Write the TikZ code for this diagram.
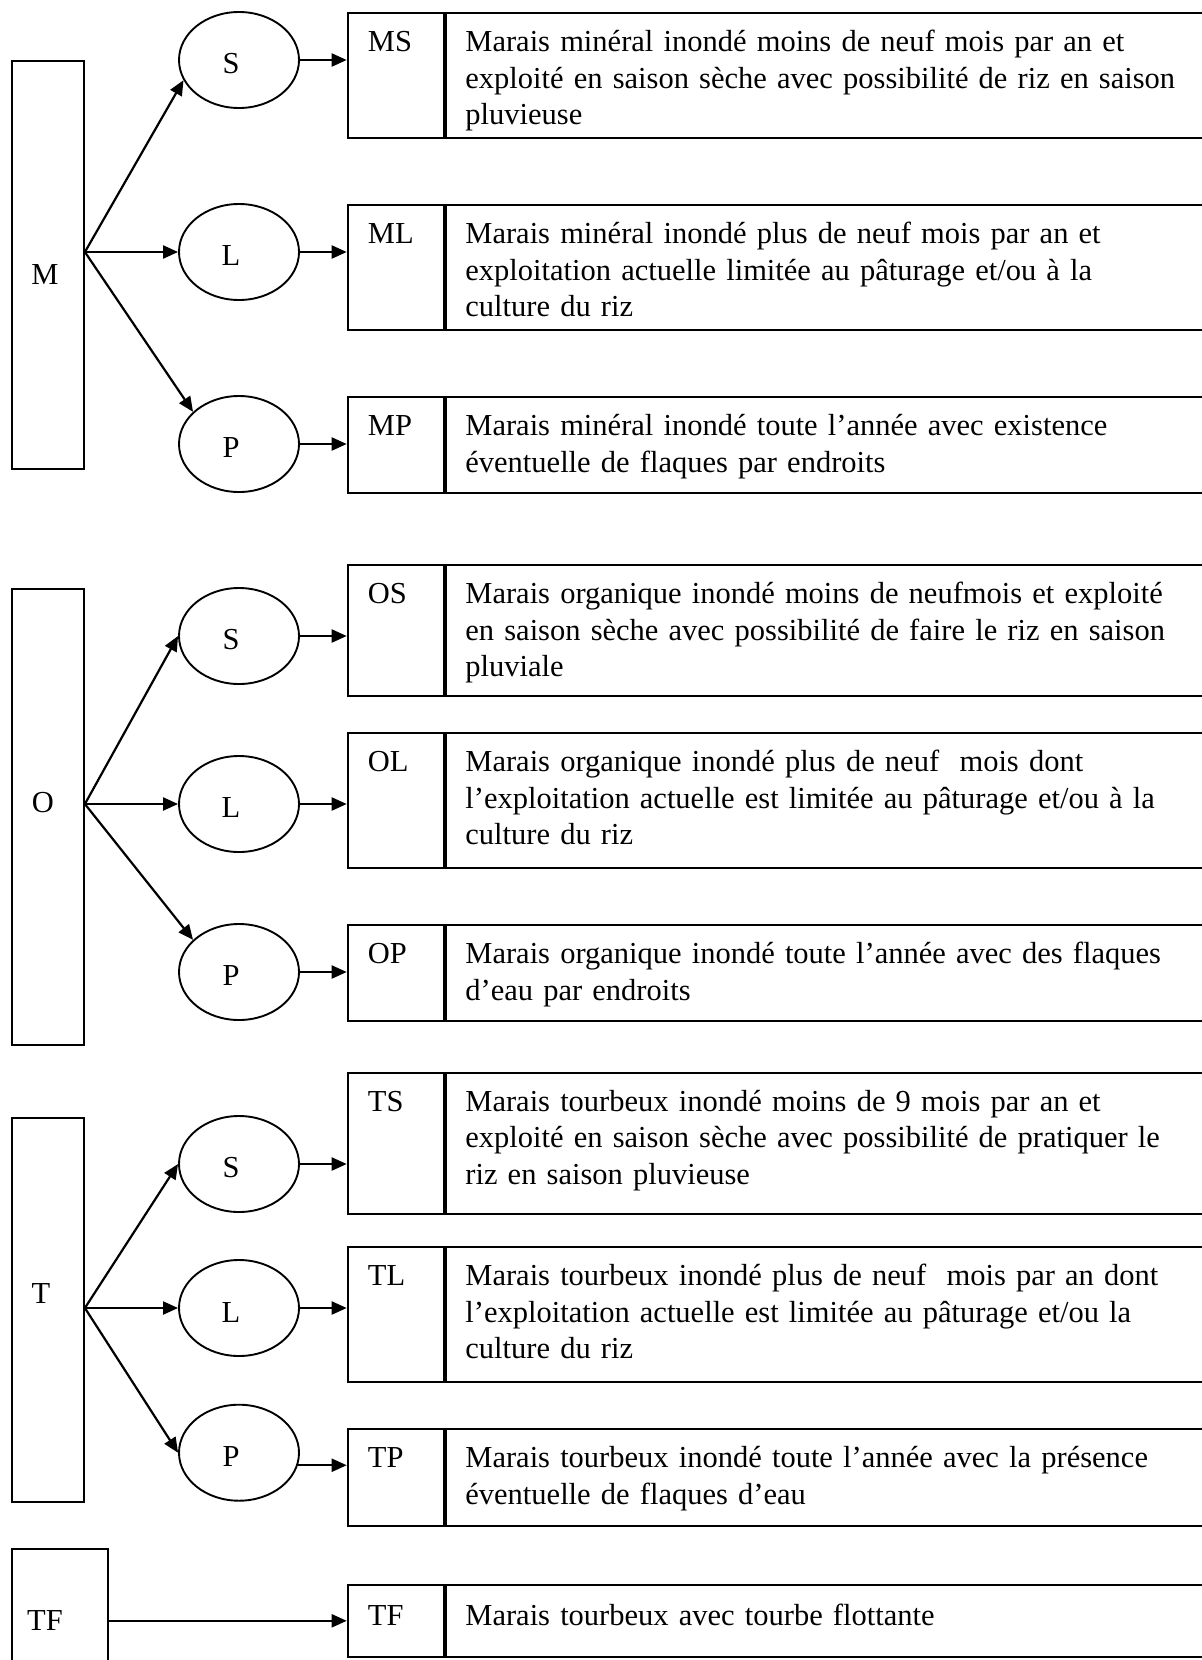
\documentclass[tikz,border=0pt]{standalone}
\usepackage{fontspec}
\setmainfont{Liberation Serif}
\usetikzlibrary{arrows.meta,shapes.geometric,calc}

\begin{document}
\begin{tikzpicture}[x=1pt,y=-1pt,
    every node/.style={font=\fontsize{30.5pt}{36.5pt}\selectfont, inner sep=0pt},
    grp/.style={draw, line width=1.9pt, anchor=north west, minimum width=72pt},
    sub/.style={draw, ellipse, line width=1.9pt, minimum width=120pt, minimum height=96pt},
    cell/.style={draw, line width=1.9pt, anchor=north west},
    lab/.style={anchor=base west},
    desc/.style={anchor=base west, text width=730pt, align=left},
    arr/.style={line width=2.2pt, -{Triangle[length=15pt,width=13pt]}}]
  \useasboundingbox (0,0) rectangle (1202,1660);
  \clip (0,0) rectangle (1202,1660);

  % classes
  \node[grp, minimum height=408pt] (M) at (11,60) {};
  \node[grp, minimum height=455.7pt] (O) at (11,588.3) {};
  \node[grp, minimum height=384.3pt] (T) at (11,1116.7) {};
  \node (Ml) at (45,275) {M};
  \node (Ol) at (43,803) {O};
  \node (Tl) at (41,1293) {T};

  % sub-classes and their descriptions
  \foreach \gr/\sb/\ty/\hh/\ey/\sa/\txt in {
      M/S/12.3/124.4/60/0/{Marais minéral inondé moins de neuf mois par an et\\exploité en saison sèche avec possibilité de riz en saison\\pluvieuse},
      M/L/204/125/252/0/{Marais minéral inondé plus de neuf mois par an et\\exploitation actuelle limitée au pâturage et/ou à la\\culture du riz},
      M/P/396/95.7/444/0/{Marais minéral inondé toute l’année avec existence\\éventuelle de flaques par endroits},
      O/S/564/131/636/0/{Marais organique inondé moins de neufmois et exploité\\en saison sèche avec possibilité de faire le riz en saison\\pluviale},
      O/L/732.3/135/804/0/{Marais organique inondé plus de neuf\ \ mois dont\\l’exploitation actuelle est limitée au pâturage et/ou à la\\culture du riz},
      O/P/924.3/95.7/972/0/{Marais organique inondé toute l’année avec des flaques\\d’eau par endroits},
      T/S/1071.7/141/1164/0/{Marais tourbeux inondé moins de 9 mois par an et\\exploité en saison sèche avec possibilité de pratiquer le\\riz en saison pluvieuse},
      T/L/1246/134.7/1308/0/{Marais tourbeux inondé plus de neuf\ \ mois par an dont\\l’exploitation actuelle est limitée au pâturage et/ou la\\culture du riz},
      T/P/1428.3/96.7/1452.7/-12/{Marais tourbeux inondé toute l’année avec la présence\\éventuelle de flaques d’eau}}{
    \node[sub] (e\gr\sb) at (239,\ey) {};
    \node (l\gr\sb) at (231,\ey+4) {\sb};
    \node[cell, minimum width=96.6pt, minimum height=\hh pt] (\gr\sb) at (346.7,\ty) {};
    \node[cell, minimum width=800pt, minimum height=\hh pt] (d\gr\sb) at (\gr\sb.north east) {};
    \node[lab] (c\gr\sb) at ($(\gr\sb.north west)+(21,39.5)$) {\gr\sb};
    \node[desc] (t\gr\sb) at ($(d\gr\sb.north west)+(20,39.5)$) {\txt};
    \draw[arr] (e\gr\sb.\sa) -- (e\gr\sb.\sa -| \gr\sb.west);
  }

  % branches
  \foreach \gr/\as/\ap in {M/200/145, O/180/145, T/180/180}{
    \coordinate (o\gr) at (\gr.east |- e\gr L.center);
    \draw[arr] (o\gr) -- (e\gr S.\as);
    \draw[arr] (o\gr) -- (e\gr L.west);
    \draw[arr] (o\gr) -- (e\gr P.\ap);
  }

  % floating peat
  \node[grp, minimum width=96.3pt, minimum height=160pt] (TFg) at (11,1548.3) {};
  \node (TFl) at (45,1620) {TF};
  \node[cell, minimum width=96.6pt, minimum height=71.7pt] (TF) at (346.7,1584) {};
  \node[cell, minimum width=800pt, minimum height=71.7pt] (dTF) at (TF.north east) {};
  \node[lab] (cTF) at ($(TF.north west)+(21,41)$) {TF};
  \node[desc] (tTF) at ($(dTF.north west)+(20,41)$) {Marais tourbeux avec tourbe flottante};
  \draw[arr] (TFg.east |- TF.west) -- (TF.west);
\end{tikzpicture}
\end{document}
